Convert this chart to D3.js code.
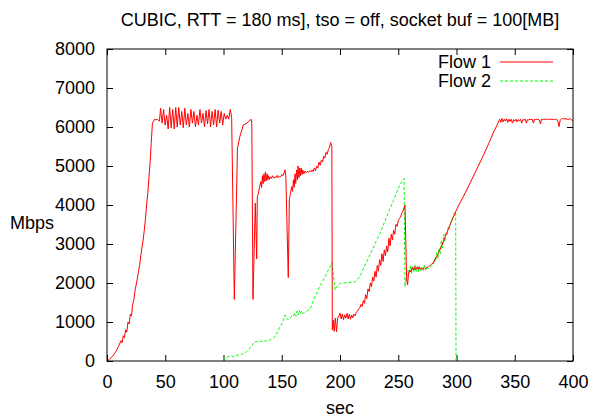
<!DOCTYPE html>
<html><head><meta charset="utf-8">
<script src="https://cdn.jsdelivr.net/npm/d3@7"></script>
<style>body{margin:0;background:#fff}svg{display:block}text{font-family:"Liberation Sans",Arial,sans-serif;fill:#000}</style>
</head><body><svg id="c" width="596" height="419"></svg>
<script>
const title = "CUBIC, RTT = 180 ms], tso = off, socket buf = 100[MB]";
const xTicks = [0,50,100,150,200,250,300,350,400];
const yTicks = [0,1000,2000,3000,4000,5000,6000,7000,8000];
const seriesNames = ["Flow 1","Flow 2"];
const flow1 = [
[0,0],[2,40],[4,100],[6,170],[8,260],[10,380],[12,520],[13,470],[14,650],[15,600],[16,800],[17,740],[18,1000],[19,950],[20,1200],[21,1150],[22,1450],[23,1550],[24,1800],[25,1950],[26,2100],[27,2300],[28,2450],[29,2700],[30,2900],[31,3100],[32,3350],[33,3650],[34,4000],[35,4300],[36,4700],[37,5100],[38,5600],[39,6100],[40,6150],[41,6200],[42,6180],[43,6200],[44,6170],[45,6150],
[46,6480],[47.3,6100],[48.6,6450],[49.9,6050],[51.2,6300],[52.5,5950],[53.8,6500],[55.1,5980],[56.4,6450],[57.7,5950],[59,6500],[60.3,6000],[61.6,6500],[62.9,6050],[64.2,6400],[65.5,5980],[66.8,6480],[68.1,6050],[69.4,6350],[70.7,6000],[72,6450],[73.3,6100],[74.6,6400],[75.9,6000],[77.2,6300],[78.5,6050],[79.8,6450],[81.1,6100],[82.4,6350],[83.7,6000],[85,6420],[86.3,6080],[87.6,6450],[88.9,6000],[90.2,6400],[91.5,6050],[92.8,6450],[94.1,6000],[95.4,6430],[96.7,6100],[98,6400],[99.3,6050],[100.6,6350],[101.9,6200],[103.2,6300],[104.5,6200],[105.8,6450],[107,6250],
[109.3,1580],[112,5450],[114,5750],[117,6050],[120,6100],[122,6150],[123.6,6200],[124.3,6100],[125.3,1580],[127.3,4050],[128.5,2620],[129,4200],[130,4300],[131,4470],[132,4600],[132.7,4450],[133.4,4750],[134,4550],[134.7,4800],[135.4,4600],[136,4850],[136.7,4620],[137.4,4800],[138,4650],[138.7,4750],[139.4,4650],[140,4720],[141,4680],[142,4750],[143,4690],[144,4720],[145,4700],[146,4760],[147,4700],[148,4740],[149,4720],[150,4780],[151,4750],[152,4820],[152.8,4900],[153.5,4750],
[155.6,2140],[156.5,4130],[157.5,4300],[158.5,4470],[159.3,4350],[160,4650],[160.7,4450],[161.4,4800],[162,4550],[162.7,4900],[163.4,4650],[164,5000],[164.7,4700],[165.4,4950],[166,4750],[166.7,4950],[167.4,4780],[168,4900],[169,4800],[170,4870],[171,4830],[172,4860],[173,4840],[174,4880],[175,4850],[176,4900],[177,4860],[178,4950],[179,4880],[180,5000],[181,4950],[182,5100],[183,5020],[184,5150],[185,5100],[186,5250],[187,5200],[188,5350],[189,5300],[190,5420],[191,5480],[192,5600],[193,5500],
[193.4,800],[194.2,1050],[195,760],[196,1100],[197,750],[198,1100],[199,1150],[200,1230],[201,1080],[202,1200],[203,1060],[204,1180],[205,1100],[206,1220],[207,1080],[208,1200],[209,1070],[210,1180],[211,1110],[212,1200],[213,1160],[214,1250],[215,1280],[216,1330],[217,1360],[218,1450],[219,1400],[220,1550],[221,1480],[222,1700],[223,1600],[224,1850],[225,1780],[226,2000],[227,1900],[228,2150],[229,2050],[230,2300],[231,2150],[232,2450],[233,2300],[234,2600],[235,2450],[236,2750],[237,2550],[238,2850],[239,2700],[240,2950],[241,2800],[242,3150],[243,2950],[244,3250],[245,3100],[246,3350],[247,3250],[248,3500],[249,3450],[250,3600],[251,3650],[252,3700],[253,3780],[254,3850],[255,3920],[255.8,4000],
[257.2,2100],[258,1950],[258.8,2250],[260,2330],[261,2280],[262,2400],[263,2330],[264,2420],[265,2340],[266,2400],[267,2350],[268,2420],[269,2360],[270,2380],[271,2350],[272,2400],[273,2370],[274,2390],[275,2400],[276,2420],[277,2440],[278,2470],[280,2510],[283,2680],[285.8,2850],[288.5,3050],[291.6,3280],[295,3530],[298.7,3790],[302,4000],[305.8,4210],[311.6,4560],[316,4830],[320,5080],[324,5330],[328,5600],[332,5880],[334.5,6030],[336,6130],
[337,6200],[338,6120],[339,6220],[340,6130],[341,6200],[342,6150],[343,6210],[344,6120],[345,6200],[346,6140],[347,6200],[348,6100],[349,6190],[350,6150],[351,6200],[352,6130],[353,6190],[354,6150],[355,6200],[356,6100],[357,6190],[358,6180],[359,6200],[360,6100],[361,6190],[362,6180],[363,6200],[364,6190],[365,6200],[366,6100],[367,6200],[368,6190],[369,6200],[370,6200],[371,6180],[372,6080],[373,6200],[374,6190],[375,6200],[376,6200],[377,6190],[378,6200],[379,6200],[380,6190],[381,6200],[382,6200],[383,6190],[384,6200],[385,6190],[386,6200],[387,6150],[388,6010],[389,6180],[390,6200],[391,6230],[392,6200],[393,6220],[394,6200],[395,6210],[396,6180],[397,6220],[398,6200],[399,6180],[400,6160]
];
const flow2 = [
[100,0],[101,60],[103,100],[105,120],[107,130],[109,110],[111,150],[114,150],[116,180],[118.5,200],[121,280],[124,370],[126,480],[128,500],[130,480],[132,510],[134,490],[136,520],[138,500],[140,540],[142,570],[144,620],[146,720],[148.5,880],[150,950],[151.5,1050],[152.8,1180],[154,1100],[155.6,1050],[157,1100],[158.5,1150],[160,1140],[161,1230],[162,1150],[163,1280],[164,1180],[165,1300],[166,1200],[167,1280],[168,1220],[170,1260],[172,1290],[174,1320],[176,1450],[178.5,1650],[181,1800],[184,1990],[187,2150],[190,2330],[192,2450],[193,2520],[194,2300],[195.7,1820],[197,1900],[200,1990],[203,2000],[207,2010],[210,2020],[213,2030],[217,2160],[221,2430],[225.7,2720],[230,3000],[234.3,3270],[238,3550],[243,3915],[246,4120],[250,4430],[253,4600],[255,4680],
[255.8,1900],[257,2150],[258.6,2330],[259.5,2250],[260.5,2450],[261.5,2250],[262.5,2420],[263.5,2280],[264.5,2460],[265.5,2300],[266.5,2430],[267.5,2280],[268.5,2420],[269.5,2300],[270.5,2400],[271.5,2320],[272.5,2450],[273.5,2330],[274.5,2420],[275.5,2360],[277,2400],[278.5,2430],[280,2450],[281,2620],[282,2550],[283,2780],[284,2620],[285,2900],[286,2750],[287,3100],[288,2900],[289,3250],[290,3050],[291,3300],[292,3250],[293,3450],[294,3400],[295,3560],[296,3600],[297,3700],[298.7,3830],[299.3,3800],[299.6,0]
];

const W=596,H=419, L=107,R=573,T=49,B=361;
const svg=d3.select("#c");
const x=d3.scaleLinear().domain([0,400]).range([L,R]);
const y=d3.scaleLinear().domain([0,8000]).range([B,T]);
const fs=18;

svg.append("text").attr("x",340).attr("y",26).attr("text-anchor","middle").attr("font-size",fs).text(title);

// axes with inward ticks
const axB=svg.append("g").attr("transform",`translate(0,${B})`).call(d3.axisBottom(x).tickValues(xTicks).tickSize(-6).tickPadding(14).tickFormat(d3.format("d")));
const axT=svg.append("g").attr("transform",`translate(0,${T})`).call(d3.axisTop(x).tickValues(xTicks).tickSize(-6).tickFormat(""));
const axL=svg.append("g").attr("transform",`translate(${L},0)`).call(d3.axisLeft(y).tickValues(yTicks).tickSize(-6).tickPadding(12).tickFormat(d3.format("d")));
const axR=svg.append("g").attr("transform",`translate(${R},0)`).call(d3.axisRight(y).tickValues(yTicks).tickSize(-6).tickFormat(""));
[axB,axT,axL,axR].forEach(a=>{a.select(".domain").remove();a.selectAll("line").attr("stroke","#000");a.selectAll("text").attr("font-size",fs).attr("font-family","Liberation Sans, Arial, sans-serif").attr("fill","#000");});

const line=d3.line().x(d=>x(d[0])).y(d=>y(d[1]));
svg.append("clipPath").attr("id","pc").append("rect").attr("x",L).attr("y",T).attr("width",R-L).attr("height",B-T);
svg.append("path").datum(flow2).attr("d",line).attr("fill","none").attr("stroke","#00ff00").attr("stroke-width",1).attr("stroke-dasharray","3,2").attr("clip-path","url(#pc)");
svg.append("path").datum(flow1).attr("d",line).attr("fill","none").attr("stroke","#ff0000").attr("stroke-width",1).attr("clip-path","url(#pc)");

svg.append("rect").attr("x",L).attr("y",T).attr("width",R-L).attr("height",B-T).attr("fill","none").attr("stroke","#000").attr("stroke-width",1);

// legend
const lg=[{n:seriesNames[0],c:"#ff0000",d:null,y:62},{n:seriesNames[1],c:"#00ff00",d:"3,2",y:81}];
lg.forEach(o=>{
 svg.append("text").attr("x",491).attr("y",o.y+6).attr("text-anchor","end").attr("font-size",fs).text(o.n);
 svg.append("line").attr("x1",500).attr("x2",553).attr("y1",o.y).attr("y2",o.y).attr("stroke",o.c).attr("stroke-width",1).attr("stroke-dasharray",o.d);
});

svg.append("text").attr("x",340).attr("y",414).attr("text-anchor","middle").attr("font-size",fs).text("sec");
svg.append("text").attr("x",32).attr("y",229).attr("text-anchor","middle").attr("font-size",fs).text("Mbps");
</script></body></html>
